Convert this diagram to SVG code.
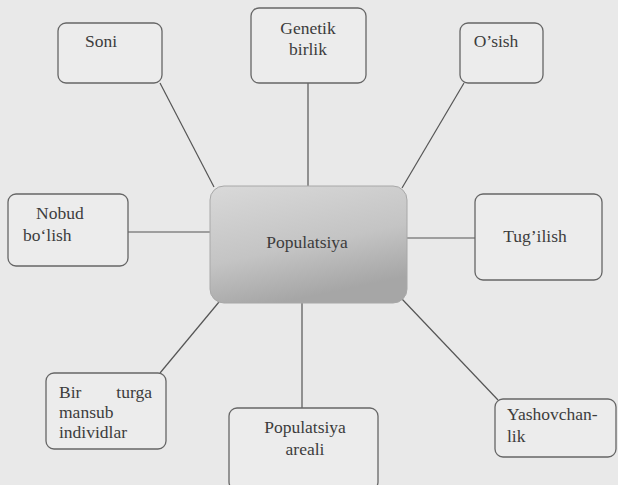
<svg xmlns="http://www.w3.org/2000/svg" width="618" height="485" viewBox="0 0 618 485">
<defs>
<linearGradient id="cg" x1="0" y1="0" x2="0.35" y2="1">
<stop offset="0" stop-color="#d9d9d9"/>
<stop offset="0.6" stop-color="#c4c4c4"/>
<stop offset="1" stop-color="#a6a6a6"/>
</linearGradient>
<style>
.box{fill:#ececec;stroke:#666;stroke-width:1.3}
.c{text-anchor:middle}
.ln{stroke:#555;stroke-width:1.2;fill:none}
</style>
</defs>
<rect width="618" height="485" fill="#e9e9e9"/>
<g id="connectors">
<line class="ln" x1="160" y1="83" x2="214" y2="187"/>
<line class="ln" x1="308" y1="83" x2="308" y2="187"/>
<line class="ln" x1="464" y1="83" x2="402" y2="188"/>
<line class="ln" x1="128" y1="232" x2="211" y2="232"/>
<line class="ln" x1="406" y1="238" x2="475" y2="238"/>
<line class="ln" x1="160" y1="373" x2="219" y2="302"/>
<line class="ln" x1="302" y1="303" x2="302" y2="408"/>
<line class="ln" x1="402" y1="299" x2="498" y2="400"/>
</g>
<g font-family="Liberation Serif, Tinos, Times New Roman, DejaVu Serif, serif" font-size="17.5" fill="#3c3c3c">
<g id="soni">
<rect class="box" x="58" y="23" width="104" height="60" rx="8"/>
<text class="c" x="101" y="47">Soni</text>
</g>
<g id="genetik">
<rect class="box" x="251" y="8" width="115" height="75" rx="8"/>
<text class="c" x="308" y="34">Genetik</text>
<text class="c" x="308" y="55">birlik</text>
</g>
<g id="osish">
<rect class="box" x="460" y="23" width="83" height="60" rx="8"/>
<text class="c" x="496" y="47">O’sish</text>
</g>
<g id="nobud">
<rect class="box" x="8" y="194" width="120" height="72" rx="8"/>
<text x="36" y="219">Nobud</text>
<text x="23" y="241">bo‘lish</text>
</g>
<g id="populatsiya">
<rect x="210" y="186" width="197" height="117" rx="14" fill="url(#cg)" stroke="#a8a8a8" stroke-width="1"/>
<text class="c" x="307" y="248">Populatsiya</text>
</g>
<g id="tugilish">
<rect class="box" x="475" y="194" width="127" height="86" rx="8"/>
<text class="c" x="535" y="242">Tug’ilish</text>
</g>
<g id="birturga">
<rect class="box" x="46" y="373" width="120" height="76" rx="8"/>
<text x="59" y="398">Bir</text>
<text x="152" y="398" text-anchor="end">turga</text>
<text x="59" y="418">mansub</text>
<text x="59" y="438">individlar</text>
</g>
<g id="areali">
<rect class="box" x="229" y="408" width="149" height="82" rx="8"/>
<text class="c" x="305" y="433">Populatsiya</text>
<text class="c" x="305" y="455">areali</text>
</g>
<g id="yashovchanlik">
<rect class="box" x="495" y="399" width="121" height="58" rx="8"/>
<text x="507" y="420">Yashovchan-</text>
<text x="507" y="442">lik</text>
</g>
</g>
</svg>
